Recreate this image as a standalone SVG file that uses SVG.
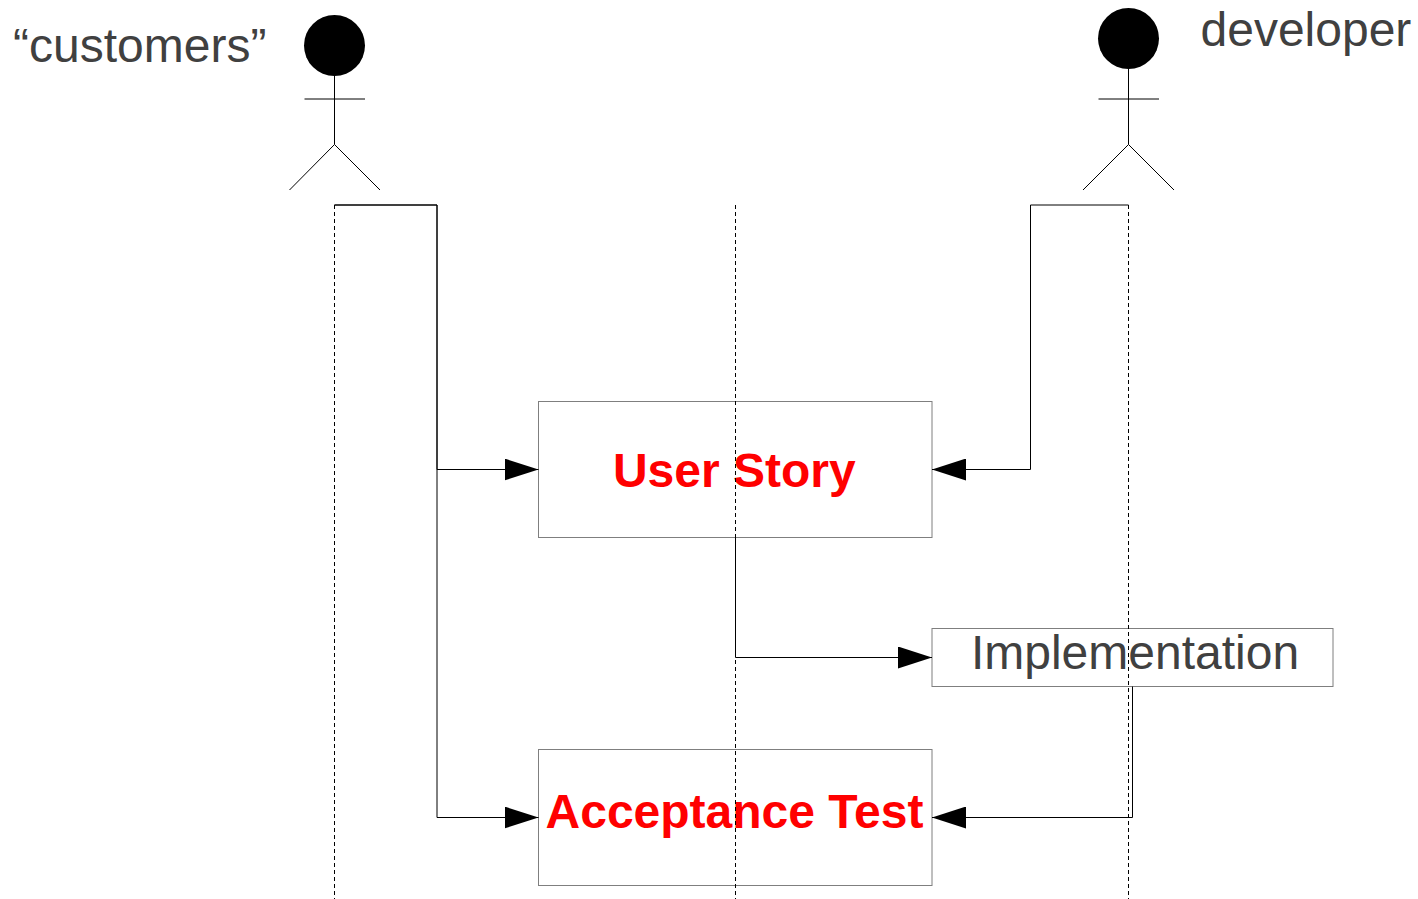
<svg xmlns="http://www.w3.org/2000/svg" width="1418" height="899" viewBox="0 0 1418 899">
<style>
.l{fill:none;stroke:#000;stroke-width:1}
.d{fill:none;stroke:#000;stroke-width:1;stroke-dasharray:4 3}
.b{fill:#fff;stroke:#7f7f7f;stroke-width:1}
.g{font-family:"Liberation Sans",Arial,sans-serif;font-size:48px;fill:#404040}
.r{font-family:"Liberation Sans",Arial,sans-serif;font-size:48px;font-weight:bold;fill:#f00}
</style>
<defs><marker id="a" markerUnits="userSpaceOnUse" markerWidth="34" markerHeight="22" refX="34" refY="11" orient="auto"><path d="M0 0L34 11L0 22Z" fill="#000"/></marker></defs>
<rect width="1418" height="899" fill="#fff"/>
<g id="box-user-story"><rect class="b" x="538.500" y="401.500" width="393.500" height="136"/><text class="r" x="734.300" y="487" text-anchor="middle">User Story</text></g>
<g id="box-implementation"><rect class="b" x="932" y="628.500" width="401" height="58"/><text class="g" x="1135" y="669" text-anchor="middle">Implementation</text></g>
<g id="box-acceptance"><rect class="b" x="538.500" y="749.500" width="393.500" height="136"/><text class="r" x="734.500" y="828" text-anchor="middle">Acceptance Test</text></g>
<g id="customers"><circle cx="334.500" cy="45.500" r="30.500" fill="#000"/><path class="l" d="M334.500 76V144.500M304.500 99H365M289.500 190L334.500 144.500L380 190"/><text class="g" x="13" y="62">“customers”</text></g>
<g id="developer"><circle cx="1128.500" cy="38.500" r="30.500" fill="#000"/><path class="l" d="M1128.500 69V144.500M1098.500 99H1159M1083 190L1128.500 144.500L1174 190"/><text class="g" x="1200.500" y="46">developer</text></g>
<g id="connectors">
<path class="d" d="M334.500 205V899M735.500 205V899M1128.500 205V899"/>
<path class="l" d="M334.500 205H437V469.500H538.500" marker-end="url(#a)"/>
<path class="l" d="M334.500 205H437V817.500H538.500" marker-end="url(#a)"/>
<path class="l" d="M1128.500 205H1030.500V469.500H932" marker-end="url(#a)"/>
<path class="l" d="M735.500 537.500V657.500H932" marker-end="url(#a)"/>
<path class="l" d="M1132.500 686.500V817.500H932" marker-end="url(#a)"/>
</g>
</svg>
